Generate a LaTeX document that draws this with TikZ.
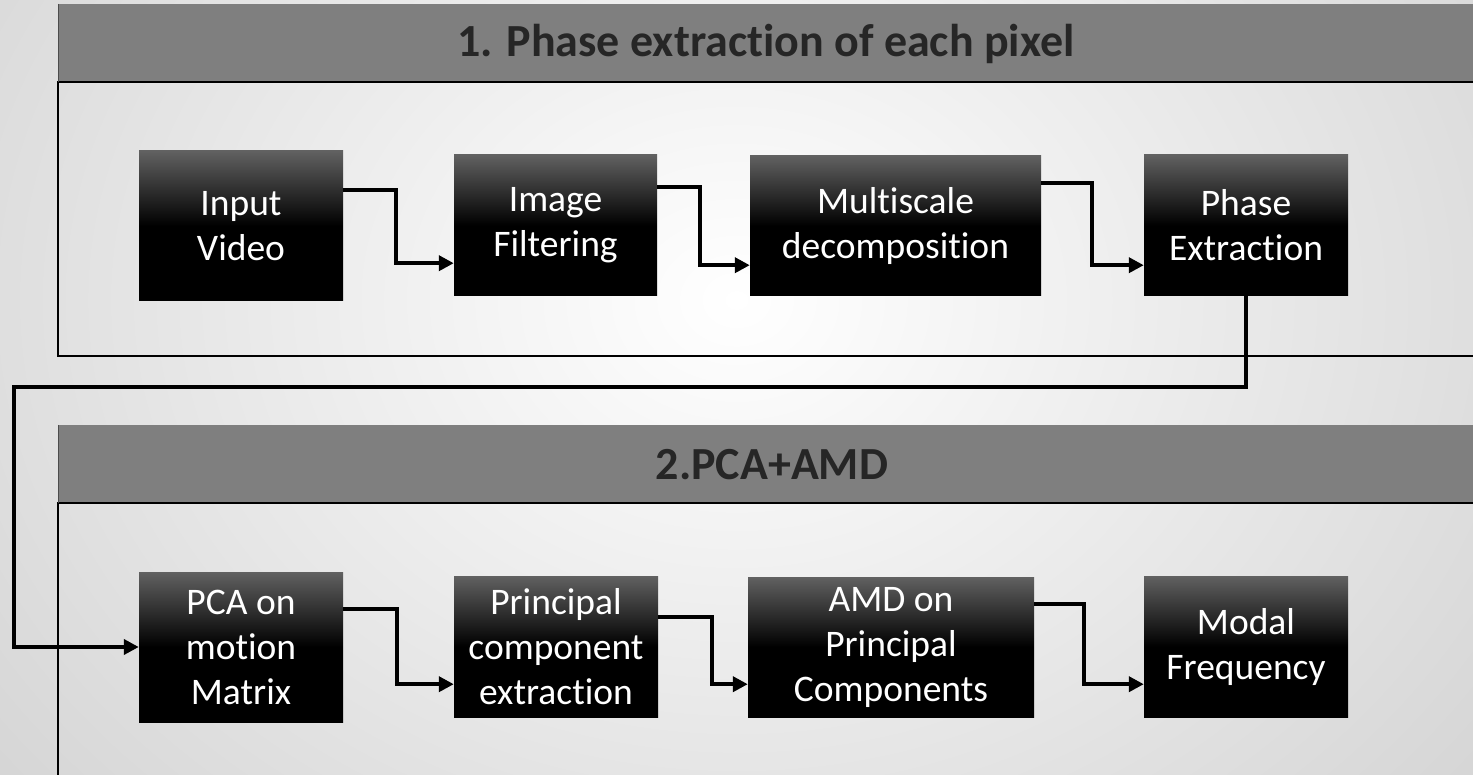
\documentclass[tikz,border=0pt]{standalone}
\usepackage{fontspec}
\setmainfont{Carlito}[Ligatures=NoCommon]
\usetikzlibrary{arrows.meta,calc}
\definecolor{hdr}{HTML}{7F7F7F}
\definecolor{hdrtxt}{HTML}{262626}
\begin{document}
\begin{tikzpicture}[x=1pt,y=-1pt,
  stepbox/.style={rectangle, inner sep=0pt, text=white, align=center,
    top color=black!62, bottom color=black, middle color=black,
    font=\fontsize{37.5}{45}\selectfont},
  conn/.style={line width=4pt, -{Triangle[length=15pt,width=15pt]}, line join=miter},
  panelline/.style={line width=1.8pt, draw=black},
  hdrtext/.style={font=\fontsize{46}{52}\selectfont\bfseries, text=hdrtxt, inner sep=0pt}
]
\clip (0,0) rectangle (1473,775);
% background
\shade[inner color=white, outer color=black!17] (-250,-500) rectangle (1723,1100);

% panel 1
\fill[hdr] (58,4) rectangle (1490,82);
\draw[panelline] (1490,82) -- (58,82) -- (58,356) -- (1490,356);
\draw[line width=1pt, black!70] (58,4) -- (58,82);
\node[hdrtext] (t1) at (766,44) {1. Phase extraction of each pixel};

% panel 2
\fill[hdr] (58,425) rectangle (1490,503);
\draw[panelline] (1490,503) -- (58,503) -- (58,800);
\draw[line width=1pt, black!70] (58,425) -- (58,503);
\node[hdrtext] (t2) at (772,465) {2.PCA+AMD};

% row 1
\node[stepbox, minimum width=204pt, minimum height=150pt] (in) at (241,226) {Input\\Video};
\node[stepbox, minimum width=203pt, minimum height=141pt] (filt) at (555.5,225.5) {Image\\Filtering};
\node[stepbox, minimum width=291pt, minimum height=140pt] (multi) at (895.5,226) {Multiscale\\decomposition};
\node[stepbox, minimum width=204pt, minimum height=141pt] (phase) at (1246,225.5) {Phase\\Extraction};

% row 2
\node[stepbox, minimum width=204pt, minimum height=150pt] (pca) at (241,647) {PCA on\\motion\\Matrix};
\node[stepbox, minimum width=204pt, minimum height=141pt] (pce) at (556,646.5) {Principal\\component\\extraction};
\node[stepbox, minimum width=286pt, minimum height=140pt] (amd) at (891,647) {AMD on\\Principal\\Components};
\node[stepbox, minimum width=204pt, minimum height=141pt] (modal) at (1246,646.5) {Modal\\Frequency};

% connectors row 1
\draw[conn] ([yshift=-39pt]in.north east) -- ++(53,0) |- ([yshift=33pt]filt.south west);
\draw[conn] ([yshift=-32pt]filt.north east) -- ++(43,0) |- ([yshift=31pt]multi.south west);
\draw[conn] ([yshift=-27pt]multi.north east) -- ++(51,0) |- ([yshift=31pt]phase.south west);

% feedback
\coordinate (fb) at (14,387);
\draw[conn, line width=4.5pt] (phase.south) |- (fb) |- (pca.west);

% connectors row 2
\draw[conn] ([yshift=-37pt]pca.north east) -- ++(54,0) |- ([yshift=33pt]pce.south west);
\draw[conn] ([yshift=-41pt]pce.north east) -- ++(54,0) |- ([yshift=33pt]amd.south west);
\draw[conn] ([yshift=-27pt]amd.north east) -- ++(50,0) |- ([yshift=33pt]modal.south west);
\end{tikzpicture}
\end{document}
